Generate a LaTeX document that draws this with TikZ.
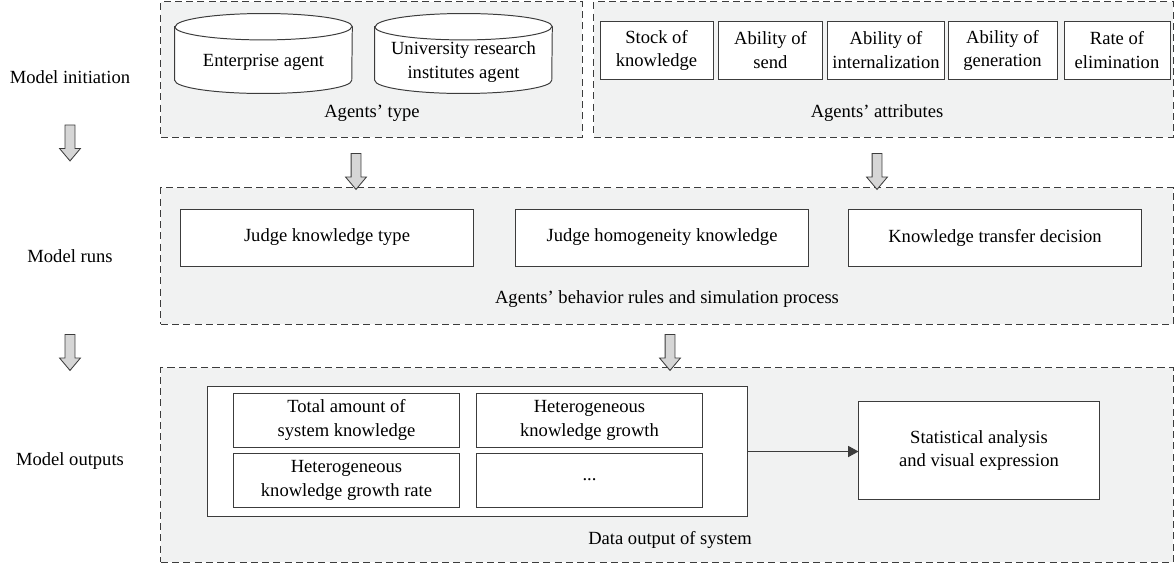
\documentclass[tikz,border=0pt]{standalone}
\usepackage{fontspec}
\setmainfont{Liberation Serif}
\usepackage{tikz}
\usetikzlibrary{shapes.arrows,arrows.meta}
\definecolor{panel}{HTML}{F1F2F2}
\definecolor{edge}{HTML}{3C3C3C}
\definecolor{hollow}{HTML}{D6D6D6}

\begin{document}
\begin{tikzpicture}[x=0.025cm, y=-0.025cm, font=\fontsize{13.2}{17}\selectfont,
	group/.style={draw=edge, dash pattern=on 5pt off 3pt, fill=panel, line width=0.7pt, inner sep=0},
	box/.style={draw=edge, fill=white, line width=0.7pt, align=center, inner sep=0},
	agent/.style={minimum width=4.425cm, minimum height=1.325cm, inner sep=0},
	drum/.style={draw=edge, fill=white, line width=0.7pt, x radius=2.2125cm, y radius=0.33cm},
	flow/.style={single arrow, shape border rotate=270, draw=edge, fill=hollow, line width=0.6pt, minimum height=0.9cm, inner sep=0.1125cm, single arrow head extend=0.1375cm, single arrow tip angle=80},]

    \useasboundingbox (0,0) rectangle (1176,565);

    \node (init) at (70,77) {Model initiation};
    \node (runs) at (70,256) {Model runs};
    \node (outs) at (70,461) {Model outputs};
    \node[flow] (down1) at (70,140) {};
    \node[flow] (down2) at (70,349.5) {};

    \node[group, minimum width=10.525cm, minimum height=3.375cm] (typegrp) at (371.5,69.5) {};
    \node[group, minimum width=14.475cm, minimum height=3.375cm] (attrgrp) at (883.5,69.5) {};
    \node[group, minimum width=25.3cm, minimum height=3.4cm] (rungrp) at (667,256) {};
    \node[group, minimum width=25.3cm, minimum height=4.85cm] (outgrp) at (667,465) {};

    \node[agent] (ent) at (263.5,53.5) {};
    \node[agent] (uni) at (463.5,53.5) {};
    \foreach \a in {ent,uni}{
        \draw[drum] (\a.north west) -- (\a.south west) arc[start angle=180, end angle=360] -- (\a.north east) arc[start angle=0, end angle=180] -- cycle;
        \draw[drum, fill=none] (\a.north west) arc[start angle=180, end angle=360];
    }
    \node (enttext) at (263.5,62) {Enterprise agent};
    \node[align=center] (unitext) at (463.5,62) {University research\\institutes agent};
    \node (typecap) at (372,113) {Agents’ type};

    \node[box, minimum width=2.825cm, minimum height=1.425cm] (stock) at (656.5,50.5) {Stock of\\knowledge};
    \node[box, minimum width=2.6cm, minimum height=1.425cm] (send) at (770.5,50.5) {Ability of\\send};
    \node[box, minimum width=2.925cm, minimum height=1.425cm] (intern) at (886,50.5) {Ability of\\internalization};
    \node[box, minimum width=2.725cm, minimum height=1.425cm] (gener) at (1002.5,50.5) {Ability of\\generation};
    \node[box, minimum width=2.65cm, minimum height=1.425cm] (elim) at (1117,50.5) {Rate of\\elimination};
    \node (attrcap) at (877,113) {Agents’ attributes};

    \node[flow] (down3) at (356,168.5) {};
    \node[flow] (down4) at (877,168.5) {};

    \node[box, minimum width=7.3cm, minimum height=1.425cm] (judgetype) at (327,237.5) {Judge knowledge type};
    \node[box, minimum width=7.3cm, minimum height=1.425cm] (judgehomo) at (662,237.5) {Judge homogeneity knowledge};
    \node[box, minimum width=7.3cm, minimum height=1.425cm] (decision) at (995,237.5) {Knowledge transfer decision};
    \node (runcap) at (667,299) {Agents’ behavior rules and simulation process};

    \node[flow] (down5) at (670,349.5) {};

    \node[box, minimum width=13.475cm, minimum height=3.225cm] (store) at (477.5,451.5) {};
    \node[box, minimum width=5.625cm, minimum height=1.35cm] (total) at (346.5,420) {Total amount of\\system knowledge};
    \node[box, minimum width=5.625cm, minimum height=1.35cm] (growth) at (589.5,420) {Heterogeneous\\knowledge growth};
    \node[box, minimum width=5.625cm, minimum height=1.35cm] (rate) at (346.5,480) {Heterogeneous\\knowledge growth rate};
    \node[box, minimum width=5.625cm, minimum height=1.35cm] (more) at (589.5,480) {...};
    \node[box, minimum width=6cm, minimum height=2.425cm] (stat) at (979,450.5) {Statistical analysis\\and visual expression};
    \node (outcap) at (670,540) {Data output of system};

    \draw[edge, line width=0.7pt, -{Triangle[length=2.6mm,width=2.8mm]}] (store.east) -- (store.east -| stat.west);
\end{tikzpicture}
\end{document}
